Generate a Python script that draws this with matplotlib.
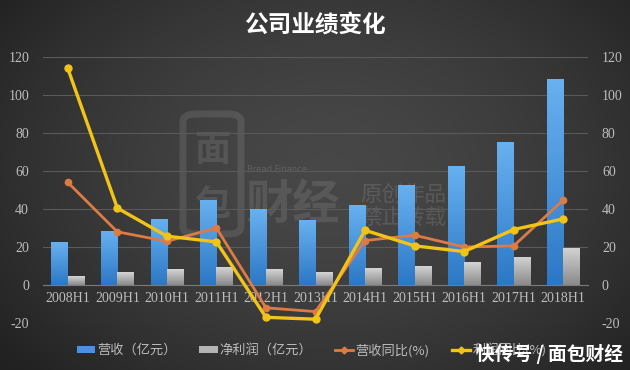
import numpy as np
import matplotlib
matplotlib.use("Agg")
import matplotlib.pyplot as plt
from matplotlib.colors import LinearSegmentedColormap
from matplotlib.patches import Patch, FancyBboxPatch
from matplotlib.lines import Line2D

# ---- data ----
categories = ["2008H1", "2009H1", "2010H1", "2011H1", "2012H1", "2013H1",
              "2014H1", "2015H1", "2016H1", "2017H1", "2018H1"]
revenue = [22.5, 28.5, 35, 45, 40, 34, 42, 52.7, 62.7, 75.5, 108.3]
net_profit = [4.7, 6.8, 8.4, 9.4, 8.4, 6.8, 8.7, 9.8, 12, 15, 19.7]
revenue_yoy = [54, 28, 23, 30, -12, -14, 23.4, 26.2, 20, 20.6, 44.7]
profit_yoy = [114, 40.5, 25.7, 22.7, -17, -18, 28.8, 20.6, 17.6, 29.2, 34.8]
yticks = [-20, 0, 20, 40, 60, 80, 100, 120]

title = "公司业绩变化"
legend_labels = ["营收（亿元）", "净利润（亿元）", "营收同比(%)", "利润同比(%)"]

plt.rcParams['font.family'] = ['Liberation Serif', 'Noto Sans CJK SC', 'DejaVu Sans']

fig = plt.figure(figsize=(6.3, 3.7), dpi=100)

# background radial gradient
bg = fig.add_axes([0, 0, 1, 1], zorder=-10)
yy, xx = np.mgrid[0:370, 0:630]
r = np.sqrt(((xx - 330) / 420.0) ** 2 + ((yy - 170) / 300.0) ** 2)
val = np.clip(0.28 - 0.15 * r ** 1.6, 0.13, 0.3)
bg.imshow(np.dstack([val, val, val]), extent=[0, 1, 0, 1], aspect='auto', origin='upper')
bg.set_axis_off()

# faint background logo watermark
logo = FancyBboxPatch((183 / 630, 1 - 234 / 370), 58 / 630, 120 / 370,
                      boxstyle="round,pad=0,rounding_size=0.02", transform=fig.transFigure,
                      fill=False, ec="white", alpha=0.10, lw=5, zorder=-5)
fig.add_artist(logo)
fig.text(183 / 630 + 29 / 630, 1 - 150 / 370, "面", color="white", alpha=0.10, fontsize=26,
         ha='center', va='center', family=['Noto Sans CJK SC'], fontweight='bold', zorder=-5)
fig.text(183 / 630 + 29 / 630, 1 - 205 / 370, "包", color="white", alpha=0.10, fontsize=26,
         ha='center', va='center', family=['Noto Sans CJK SC'], fontweight='bold', zorder=-5)
fig.text(246 / 630, 1 - 205 / 370, "财经", color="white", alpha=0.10, fontsize=34,
         ha='left', va='center', family=['Noto Sans CJK SC'], fontweight='bold', zorder=-5)
fig.text(360 / 630, 1 - 206 / 370, "原创作品\n禁止转载", color="white", alpha=0.12, fontsize=15.5,
         ha='left', va='center', family=['Noto Sans CJK SC'], linespacing=1.05, zorder=-5)
fig.text(247 / 630, 1 - 169 / 370, "Bread Finance", color="white", alpha=0.15, fontsize=6,
         va='center', family=['DejaVu Sans'], zorder=-5)

ax = fig.add_axes([43 / 630, 1 - 323 / 370, 545 / 630, (323 - 57) / 370])
ax.patch.set_alpha(0)
x = np.arange(len(categories))
w = 0.33

bars_r = ax.bar(x - w / 2, revenue, w, color="none", zorder=3)
bars_p = ax.bar(x + w / 2, net_profit, w, color="none", zorder=3)

blue_cmap = LinearSegmentedColormap.from_list("b", ["#2c78c5", "#68b1f0"])
gray_cmap = LinearSegmentedColormap.from_list("g", ["#8a8a8a", "#d4d4d4"])
grad = np.linspace(0, 1, 64).reshape(-1, 1)
for bars, cm in ((bars_r, blue_cmap), (bars_p, gray_cmap)):
    for b in bars:
        x0, y0 = b.get_x(), b.get_y()
        im = ax.imshow(grad, cmap=cm, origin='lower', aspect='auto',
                       extent=[x0, x0 + b.get_width(), y0, y0 + b.get_height()], zorder=3)
        im.set_clip_path(b)

ax.plot(x, revenue_yoy, color="#dd7b45", lw=2, marker='o', ms=4.5, zorder=5)
ax.plot(x, profit_yoy, color="#f2c418", lw=2.4, marker='o', ms=5, zorder=6)

ax.set_xlim(-0.5, len(categories) - 0.5)
ax.set_ylim(-20, 120)
ax.set_yticks(yticks)
ax.set_yticklabels([str(v) for v in yticks])
ax.tick_params(axis='y', length=0, colors="#bdbdbd", labelsize=10, pad=10)
ax.grid(axis='y', color="#5a5a5a", lw=0.8, zorder=0)
ax.set_axisbelow(True)
for s in ["top", "right", "left"]:
    ax.spines[s].set_visible(False)
ax.spines['bottom'].set_position(('data', 0))
ax.spines['bottom'].set_color("#7a7a7a")
ax.set_xticks(x)
ax.set_xticklabels(categories)
ax.tick_params(axis='x', length=0, colors="#bdbdbd", labelsize=10, pad=5)

ax2 = ax.twinx()
ax2.set_ylim(-20, 120)
ax2.set_yticks(yticks)
ax2.set_yticklabels([str(v) for v in yticks])
ax2.tick_params(axis='y', length=0, colors="#bdbdbd", labelsize=10, pad=10)
for s in ax2.spines.values():
    s.set_visible(False)

fig.text(0.5, 1 - 25 / 370, title, ha='center', va='center', color="white",
         fontsize=17, fontweight='bold', family=['Noto Sans CJK SC'])

handles = [
    Patch(facecolor="#4a92dc", edgecolor="none"),
    Patch(facecolor="#b4b4b4", edgecolor="none"),
    Line2D([], [], color="#dd7b45", lw=2, marker='D', ms=3.5),
    Line2D([], [], color="#f2c418", lw=2.4, marker='D', ms=3.5),
]
leg = fig.legend(handles, legend_labels, loc='center left',
                 bbox_to_anchor=(77 / 630, 1 - 350 / 370), ncol=4,
                 frameon=False, borderpad=0, borderaxespad=0,
                 handlelength=1.4, handleheight=0.5, columnspacing=1.7,
                 handletextpad=0.15, prop={'family': ['Noto Sans CJK SC'], 'size': 9.5})
for t in leg.get_texts():
    t.set_color("#bdbdbd")

fig.text(623 / 630, 1 - 354 / 370, "快传号 / 面包财经", color="white", fontsize=13.5,
         ha='right', va='center', fontweight='bold', family=['Noto Sans CJK SC'], zorder=10)

fig.savefig("out.png", dpi=100)
